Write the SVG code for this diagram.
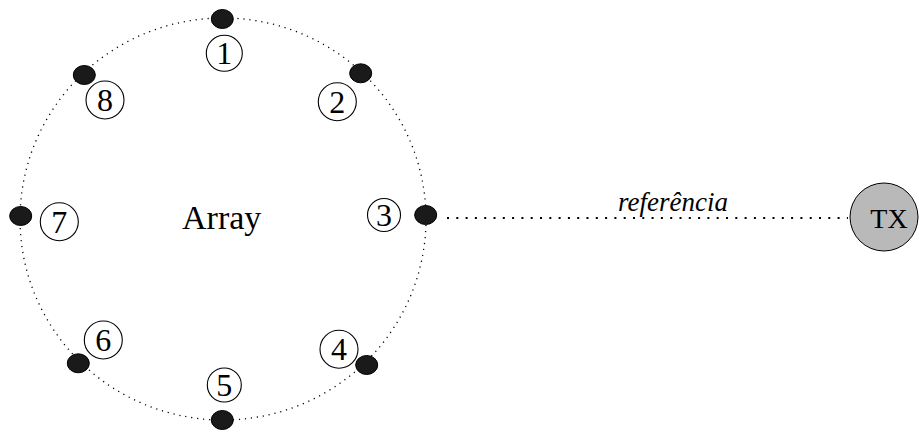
<svg xmlns="http://www.w3.org/2000/svg" width="919" height="432" viewBox="0 0 919 432">
<style>
.ring{fill:none;stroke:#000;stroke-width:1.3;stroke-dasharray:1.2 4.8;}
.link{fill:none;stroke:#000;stroke-width:2;stroke-dasharray:2 7.3;}
.el{fill:#1a1a1a;stroke:#000;stroke-width:1;}
.lbl{fill:#fff;stroke:#000;stroke-width:1.1;}
.serif{font-family:'Liberation Serif','Times New Roman',Times,serif;fill:#000;}
.num{font-size:32px;text-anchor:middle;}
</style>
<rect width="919" height="432" fill="#fff"/>
<g id="connectors">
<ellipse class="ring" cx="223" cy="219" rx="203" ry="201"/>
<line class="link" x1="447" y1="218" x2="848" y2="218"/>
<text class="serif" x="618" y="211" font-style="italic" font-size="27">referência</text>
</g>
<g id="array-label"><text class="serif" x="221.7" y="229" font-size="34" text-anchor="middle">Array</text></g>
<g id="e1"><ellipse class="el" cx="222.3" cy="19" rx="11" ry="9.5"/><circle class="lbl" cx="224.3" cy="53.3" r="18"/><text class="serif num" x="224.3" y="64.3">1</text></g>
<g id="e2"><ellipse class="el" cx="360.7" cy="73.3" rx="11" ry="9.5"/><circle class="lbl" cx="337.3" cy="101.7" r="19"/><text class="serif num" x="337.3" y="112.7">2</text></g>
<g id="e3"><ellipse class="el" cx="425.7" cy="215" rx="11" ry="9.5"/><circle class="lbl" cx="384" cy="215" r="16.5"/><text class="serif num" x="384" y="226">3</text></g>
<g id="e4"><ellipse class="el" cx="366.7" cy="365" rx="11" ry="9.5"/><circle class="lbl" cx="339" cy="349.3" r="19"/><text class="serif num" x="339" y="360.3">4</text></g>
<g id="e5"><ellipse class="el" cx="222.3" cy="420" rx="11" ry="9.5"/><circle class="lbl" cx="224.3" cy="385" r="17"/><text class="serif num" x="224.3" y="396">5</text></g>
<g id="e6"><ellipse class="el" cx="78.3" cy="363.3" rx="11" ry="9.5"/><circle class="lbl" cx="103.3" cy="340" r="19"/><text class="serif num" x="103.3" y="351">6</text></g>
<g id="e7"><ellipse class="el" cx="20.7" cy="216" rx="11" ry="9.5"/><circle class="lbl" cx="59.3" cy="221.7" r="19"/><text class="serif num" x="59.3" y="232.7">7</text></g>
<g id="e8"><ellipse class="el" cx="84.3" cy="75" rx="11" ry="9.5"/><circle class="lbl" cx="105" cy="100" r="19"/><text class="serif num" x="105" y="111">8</text></g>
<g id="tx"><circle cx="884" cy="217" r="34" fill="#b9b9b9" stroke="#000" stroke-width="1"/><text class="serif" x="889" y="227.5" font-size="28" text-anchor="middle">TX</text></g>
</svg>
